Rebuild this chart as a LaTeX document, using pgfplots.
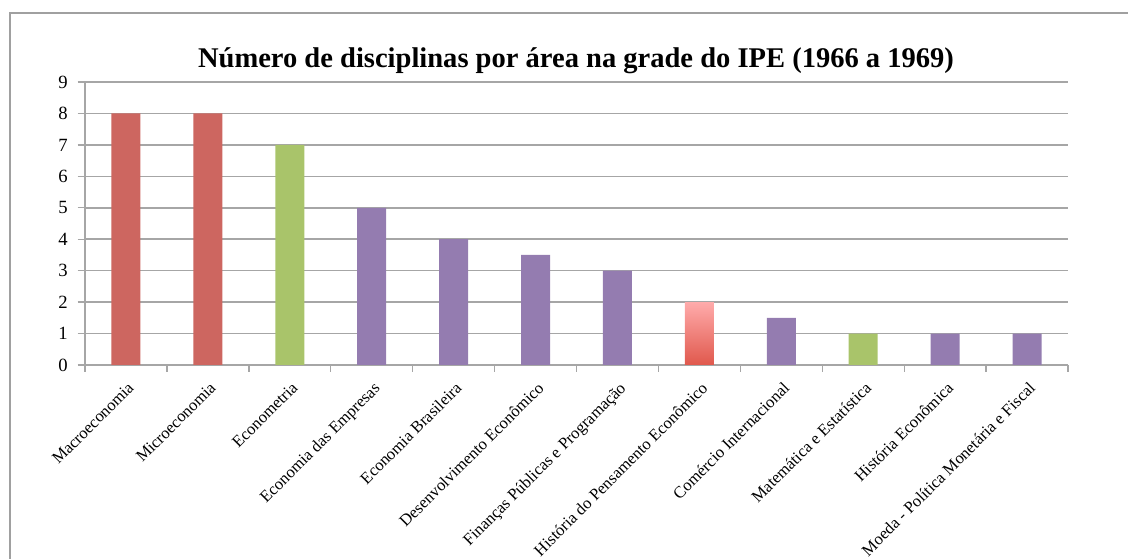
\documentclass[border=0pt]{standalone}
\usepackage{pgfplots}
\pgfplotsset{compat=1.18}
\usepackage{fontspec}
\setmainfont{Liberation Serif}
\definecolor{barred}{HTML}{CD6660}
\definecolor{bargreen}{HTML}{A9C46A}
\definecolor{barpurple}{HTML}{947CB0}
\definecolor{gridgray}{HTML}{A6A6A6}
\definecolor{framegray}{HTML}{A0A0A0}
\begin{document}
\begin{tikzpicture}
% picture is 1128 x 559 px, 1 px = 0.75pt
\useasboundingbox (0,0) rectangle (846pt,419.25pt);
\draw[framegray, line width=1.5pt] (7.5pt,-5pt) -- (7.5pt,409.5pt) -- (860pt,409.5pt);
\node[font=\bfseries\fontsize{21.4}{25}\selectfont] at (432pt,373.5pt) {Número de disciplinas por área na grade do IPE (1966 a 1969)};
\begin{axis}[
    at={(63.75pt,145.5pt)}, anchor=south west,
    scale only axis,
    width=737.25pt, height=212.25pt,
    xmin=-0.5, xmax=11.5,
    ymin=0, ymax=9,
    ytick={0,1,...,9},
    xtick={0,1,...,11},
    xticklabels={Macroeconomia, Microeconomia, Econometria, Economia das Empresas,
        Economia Brasileira, Desenvolvimento Econômico, Finanças Públicas e Programação,
        História do Pensamento Econômico, Comércio Internacional,
        Matemática e Estatística, História Econômica, Moeda - Política Monetária e Fiscal},
    minor xtick={-0.5,0.5,...,11.5},
    major x tick style={draw=none},
    tick align=outside,
    major tick length=5.5pt,
    minor tick length=5pt,
    tick style={gridgray, line width=1pt},
    ymajorgrids=true,
    grid style={gridgray, line width=1.1pt},
    axis x line*=bottom,
    axis y line*=left,
    axis line style={gridgray, line width=1.1pt},
    xticklabel style={rotate=45, anchor=north east, font=\fontsize{12.4}{14}\selectfont, inner sep=2pt, xshift=-2pt, yshift=-3pt},
    yticklabel style={font=\fontsize{14}{16}\selectfont, xshift=-4pt},
    /pgf/number format/assume math mode=true,
    ybar, bar width=21.75pt, bar shift=0pt,
]
\addplot[fill=barred, draw=none] coordinates {(0,8) (1,8)};
\addplot[fill=bargreen, draw=none] coordinates {(2,7) (9,1)};
\addplot[fill=barpurple, draw=none] coordinates {(3,5) (4,4) (5,3.5) (6,3) (8,1.5) (10,1) (11,1)};
\addplot[top color={rgb,255:red,255;green,171;blue,171}, bottom color={rgb,255:red,224;green,88;blue,76}, draw=none] coordinates {(7,2)};
\end{axis}
\end{tikzpicture}
\end{document}
